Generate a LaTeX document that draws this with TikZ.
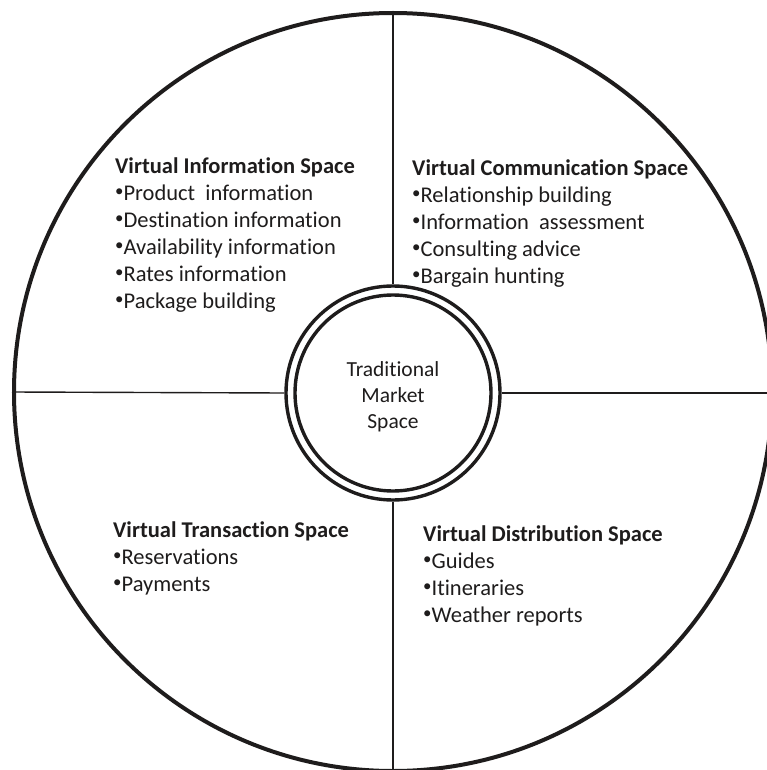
\documentclass[tikz,border=0pt]{standalone}
\usepackage{fontspec}
\setmainfont{Carlito}[Ligatures={NoCommon}]
\usepackage{xcolor}
\definecolor{RingDark}{RGB}{30, 28, 28}
\usetikzlibrary{positioning}
\newcommand{\itemdot}{\raisebox{.3ex}{\scalebox{.75}{•}}}

\begin{document}
\begin{tikzpicture}[
        x=1pt, y=-1pt,
        ring/.style={circle, draw=RingDark, inner sep=0pt},
        divider/.style={draw=RingDark, line width=1.4pt},
        space/.style={anchor=base west, align=left, inner sep=0pt, text=RingDark, font=\fontsize{22.5}{27}\selectfont},
        core/.style={align=center, inner sep=0pt, text=RingDark, font=\fontsize{21.5}{26}\selectfont}
    ]
        \useasboundingbox (0,0) rectangle (767,770);

        % --- RINGS ---
        \node[ring, line width=4pt, minimum size=758pt] (outer) at (393,392) {};
        \node[ring, line width=3.4pt, minimum size=214pt] (ringout) at (393,393) {};
        \node[ring, line width=3.4pt, minimum size=196pt] (ringin) at (393,393) {};
        \node[core] (market) at (393,397) {Traditional\\Market\\Space};

        % --- DIVIDERS ---
        \coordinate (rightend) at (767,393);
        \draw[divider] (outer.north) -- (ringout.north);
        \draw[divider] (ringout.south) -- (outer.south);
        \draw[divider] (outer.west) -- (ringout.west);
        \draw[divider] (ringout.east) -- (rightend);

        % --- SPACES --- (placed at the baseline of their last line)
        \node[space] (info) at (115,308) {\textbf{Virtual Information Space}\\%
            \itemdot Product\ \ information\\\itemdot Destination information\\\itemdot Availability information\\%
            \itemdot Rates information\\\itemdot Package building};
        \node[space] (comm) at (412,283) {\textbf{Virtual Communication Space}\\%
            \itemdot Relationship building\\\itemdot Information\ \ assessment\\\itemdot Consulting advice\\\itemdot Bargain hunting};
        \node[space] (trans) at (113,591) {\textbf{Virtual Transaction Space}\\%
            \itemdot Reservations\\\itemdot Payments};
        \node[space] (dist) at (423,622) {\textbf{Virtual Distribution Space}\\%
            \itemdot Guides\\\itemdot Itineraries\\\itemdot Weather reports};
\end{tikzpicture}
\end{document}
